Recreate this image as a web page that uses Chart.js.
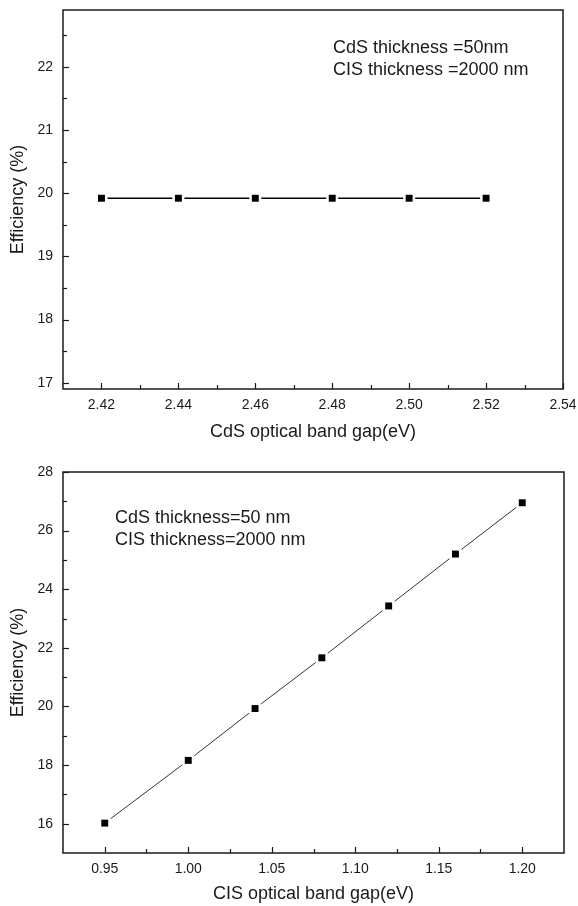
<!DOCTYPE html>
<html>
<head>
<meta charset="utf-8">
<script src="https://cdn.jsdelivr.net/npm/chart.js@4.4.1/dist/chart.umd.min.js"></script>
<style>
  body { margin: 0; background: #fff; }
  .box { position: absolute; left: 0; width: 578px; }
  #topBox { top: 0; height: 450px; }
  #botBox { top: 450px; height: 456px; }
</style>
</head>
<body>
<div class="box" id="topBox"><canvas id="cdsChart"></canvas></div>
<div class="box" id="botBox"><canvas id="cisChart"></canvas></div>
<script>
// upper panel: CdS optical band gap sweep
const cdsGap = [2.42, 2.44, 2.46, 2.48, 2.50, 2.52];
const cdsEff = [19.92, 19.92, 19.92, 19.92, 19.92, 19.92];
const cdsXTicks = [2.42, 2.44, 2.46, 2.48, 2.50, 2.52, 2.54];
const cdsYTicks = [17, 18, 19, 20, 21, 22];
const cdsNote = ['CdS thickness =50nm', 'CIS thickness =2000 nm'];

// lower panel: CIS optical band gap sweep
const cisGap = [0.95, 1.00, 1.04, 1.08, 1.12, 1.16, 1.20];
const cisEff = [16.02, 18.16, 19.93, 21.66, 23.43, 25.20, 26.95];
const cisXTicks = [0.95, 1.00, 1.05, 1.10, 1.15, 1.20];
const cisYTicks = [16, 18, 20, 22, 24, 26, 28];
const cisNote = ['CdS thickness=50 nm', 'CIS thickness=2000 nm'];

const FONT = '"Liberation Sans", Arial, sans-serif';
const INK = '#1a1a1a';
Chart.defaults.font.family = FONT;

// minor ticks sit halfway between the major ones
function halfSteps(major, min, max) {
  const step = major[1] - major[0];
  const out = [];
  for (let i = -1; i < major.length; i++) {
    const v = (i < 0 ? major[0] : major[i]) + (i < 0 ? -step / 2 : step / 2);
    if (v > min + 1e-9 && v < max - 1e-9) out.push(v);
  }
  return out;
}

// box frame, inward ticks and the text note
const framePlugin = {
  id: 'frame',
  afterDraw(chart, args, opts) {
    const { ctx, chartArea: a, scales } = chart;
    const sx = scales.x, sy = scales.y;
    ctx.save();
    ctx.strokeStyle = INK;
    ctx.lineWidth = 1.5;
    ctx.strokeRect(a.left, a.top, a.right - a.left, a.bottom - a.top);

    ctx.lineWidth = 1.2;
    const xt = (v, len) => {
      const p = Math.round(sx.getPixelForValue(v)) + 0.5;
      ctx.beginPath(); ctx.moveTo(p, a.bottom); ctx.lineTo(p, a.bottom - len); ctx.stroke();
    };
    const yt = (v, len) => {
      const p = Math.round(sy.getPixelForValue(v)) + 0.5;
      ctx.beginPath(); ctx.moveTo(a.left, p); ctx.lineTo(a.left + len, p); ctx.stroke();
    };
    opts.xMajor.forEach(v => xt(v, 6));
    halfSteps(opts.xMajor, sx.min, sx.max).forEach(v => xt(v, 4));
    opts.yMajor.forEach(v => yt(v, 6));
    halfSteps(opts.yMajor, sy.min, sy.max).forEach(v => yt(v, 4));

    ctx.fillStyle = INK;
    ctx.font = '18px ' + FONT;
    ctx.textBaseline = 'middle';
    ctx.textAlign = 'left';
    opts.note.forEach((t, i) => ctx.fillText(t, a.left + opts.noteX, a.top + opts.noteY + i * 22.5));
    ctx.restore();
  }
};

function makePanel(id, c) {
  const pts = c.xs.map((x, i) => ({ x: x, y: c.ys[i] }));
  return new Chart(document.getElementById(id), {
    type: 'scatter',
    data: {
      datasets: [
        { data: pts, pointStyle: 'rect', pointRadius: 4.9, pointBackgroundColor: '#000', pointBorderWidth: 0, order: 0 },
        { data: pts, pointStyle: 'rect', pointRadius: 8.5, pointBackgroundColor: '#fff', pointBorderWidth: 0, order: 1 },
        { data: pts, showLine: true, pointRadius: 0, borderColor: c.lineColor, borderWidth: c.lineWidth, order: 2 }
      ]
    },
    options: {
      responsive: true,
      maintainAspectRatio: false,
      animation: false,
      events: [],
      layout: { padding: { top: c.padTop, right: c.padRight, left: 0, bottom: 0 } },
      plugins: {
        legend: { display: false },
        tooltip: { enabled: false },
        frame: { xMajor: c.xTicks, yMajor: c.yTicks, note: c.note, noteX: c.noteX, noteY: c.noteY }
      },
      scales: {
        x: {
          type: 'linear',
          min: c.xMin, max: c.xMax,
          afterBuildTicks: s => { s.ticks = c.xTicks.map(v => ({ value: v })); },
          afterFit: s => { s.height = c.xAxisH; s.paddingLeft = 0; s.paddingRight = 0; },
          grid: { display: false, drawTicks: false },
          border: { display: false },
          ticks: {
            autoSkip: false, maxRotation: 0, padding: 8, color: INK,
            font: { size: 14 },
            callback: v => Number(v).toFixed(2)
          },
          title: { display: true, text: c.xTitle, color: INK, font: { size: 18 }, padding: { top: 0, bottom: c.xTitlePad } }
        },
        y: {
          type: 'linear',
          min: c.yMin, max: c.yMax,
          afterBuildTicks: s => { s.ticks = c.yTicks.map(v => ({ value: v })); },
          afterFit: s => { s.width = 63; s.paddingTop = 0; s.paddingBottom = 0; },
          grid: { display: false, drawTicks: false },
          border: { display: false },
          ticks: { autoSkip: false, padding: 10, color: INK, font: { size: 14 } },
          title: { display: true, text: 'Efficiency (%)', color: INK, font: { size: 18 }, padding: { top: 7, bottom: 0 } }
        }
      }
    },
    plugins: [framePlugin]
  });
}

makePanel('cdsChart', {
  xs: cdsGap, ys: cdsEff, xTicks: cdsXTicks, yTicks: cdsYTicks,
  xMin: 2.41, xMax: 2.54, yMin: 16.9, yMax: 22.9,
  xTitle: 'CdS optical band gap(eV)', note: cdsNote, noteX: 270, noteY: 38,
  padTop: 10, padRight: 15, xAxisH: 61, xTitlePad: 7,
  lineColor: '#000', lineWidth: 1.3
});

makePanel('cisChart', {
  xs: cisGap, ys: cisEff, xTicks: cisXTicks, yTicks: cisYTicks,
  xMin: 0.925, xMax: 1.225, yMin: 15, yMax: 28,
  xTitle: 'CIS optical band gap(eV)', note: cisNote, noteX: 52, noteY: 46,
  padTop: 22, padRight: 14, xAxisH: 53, xTitlePad: 1,
  lineColor: '#333', lineWidth: 1
});
</script>
</body>
</html>
